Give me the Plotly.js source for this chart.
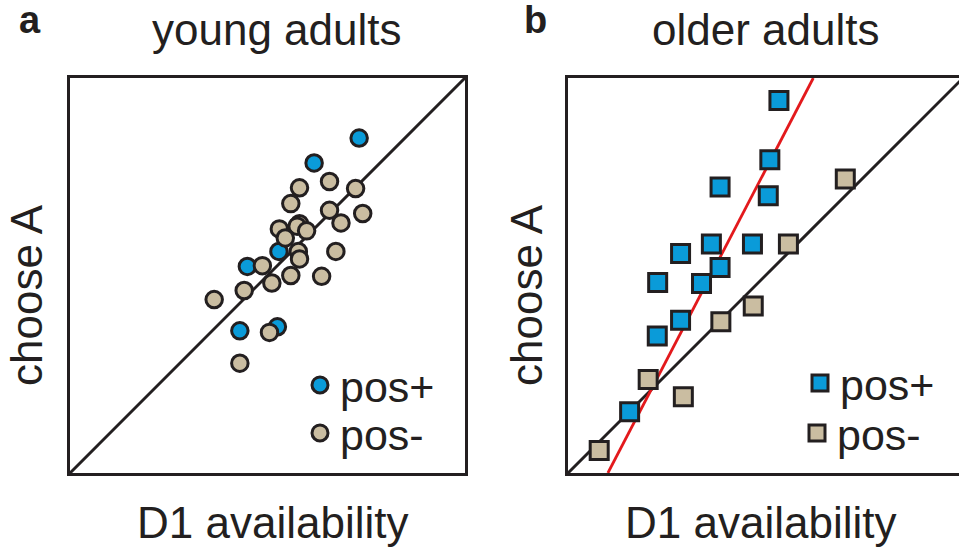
<!DOCTYPE html>
<html>
<head>
<meta charset="utf-8">
<script src="https://cdn.plot.ly/plotly-3.0.1.min.js"></script>
<style>html,body{margin:0;padding:0;background:#fff}#plot{width:959px;height:549px}</style>
</head>
<body>
<div id="plot"></div>
<script>
// ---- data (axes in arbitrary 0-1 units) ----
var seriesNames = ["pos+", "pos-"];

var youngPosX = [0.732, 0.618, 0.529, 0.449, 0.430, 0.525];
var youngPosY = [0.848, 0.785, 0.561, 0.523, 0.360, 0.370];

var youngNegX = [0.657, 0.581, 0.723, 0.559, 0.657, 0.741, 0.686, 0.581, 0.575, 0.530, 0.599, 0.545, 0.578, 0.581, 0.673, 0.487, 0.559, 0.637, 0.511, 0.441, 0.365, 0.505, 0.430];
var youngNegY = [0.738, 0.722, 0.720, 0.682, 0.665, 0.657, 0.633, 0.631, 0.625, 0.618, 0.613, 0.595, 0.561, 0.542, 0.561, 0.525, 0.500, 0.498, 0.481, 0.462, 0.439, 0.356, 0.278];

var olderPosX = [0.534, 0.511, 0.385, 0.507, 0.363, 0.467, 0.285, 0.385, 0.227, 0.338, 0.285, 0.226, 0.156];
var olderPosY = [0.943, 0.793, 0.724, 0.702, 0.580, 0.580, 0.556, 0.520, 0.482, 0.480, 0.387, 0.347, 0.155];

var olderNegX = [0.702, 0.558, 0.469, 0.387, 0.203, 0.292, 0.079];
var olderNegY = [0.744, 0.580, 0.423, 0.383, 0.237, 0.193, 0.057];

// identity line and red fit line for older pos+
var identityX = [0, 1];
var identityY = [0, 1];
var fitX = [0.101, 0.621];
var fitY = [0, 1];

var panelTitles = ["young adults", "older adults"];
var panelLetters = ["a", "b"];
var xTitle = "D1 availability";
var yTitle = "choose A";

// ---- styles ----
var blue = "#0a9bd9";
var tan = "#cabda1";
var ink = "#231f20";
var FONT = "Liberation Sans, Arial, sans-serif";

var W = 959, H = 549;
function px(x) { return x / W; }
function py(y) { return 1 - y / H; }

var traces = [
  {x: identityX, y: identityY, xaxis: "x", yaxis: "y", mode: "lines", line: {color: ink, width: 3}, showlegend: false, hoverinfo: "skip"},
  {x: youngPosX, y: youngPosY, xaxis: "x", yaxis: "y", mode: "markers", name: seriesNames[0], legend: "legend",
   marker: {symbol: "circle", size: 16.5, color: blue, line: {color: ink, width: 3}}},
  {x: youngNegX, y: youngNegY, xaxis: "x", yaxis: "y", mode: "markers", name: seriesNames[1], legend: "legend2",
   marker: {symbol: "circle", size: 16.5, color: tan, line: {color: ink, width: 3}}},
  {x: identityX, y: identityY, xaxis: "x2", yaxis: "y2", mode: "lines", line: {color: ink, width: 3}, showlegend: false, hoverinfo: "skip"},
  {x: fitX, y: fitY, xaxis: "x2", yaxis: "y2", mode: "lines", line: {color: "#e3191c", width: 2.8}, showlegend: false, hoverinfo: "skip"},
  {x: olderPosX, y: olderPosY, xaxis: "x2", yaxis: "y2", mode: "markers", name: seriesNames[0], legend: "legend3",
   marker: {symbol: "square", size: 18, color: blue, line: {color: ink, width: 3}}},
  {x: olderNegX, y: olderNegY, xaxis: "x2", yaxis: "y2", mode: "markers", name: seriesNames[1], legend: "legend4",
   marker: {symbol: "square", size: 18, color: tan, line: {color: ink, width: 3}}}
];

var axBase = {showgrid: false, zeroline: false, showticklabels: false, ticks: "", showline: true,
  linecolor: ink, linewidth: 3, fixedrange: true};

function leg(xl, yc) {
  return {x: px(xl), y: py(yc), xanchor: "left", yanchor: "middle", bgcolor: "rgba(0,0,0,0)",
    font: {size: 43, family: FONT, color: ink}, itemsizing: "trace", tracegroupgap: 0};
}

var layout = {
  width: W, height: H,
  margin: {l: 0, r: 0, t: 0, b: 0},
  paper_bgcolor: "#fff", plot_bgcolor: "#fff",
  font: {family: FONT, color: ink, size: 44},
  xaxis: Object.assign({}, axBase, {domain: [px(70), px(465)], range: [0, 1], mirror: true, anchor: "y"}),
  yaxis: Object.assign({}, axBase, {domain: [py(473), py(78)], range: [0, 1], mirror: true, anchor: "x"}),
  xaxis2: Object.assign({}, axBase, {domain: [px(568), 1], range: [0, (W - 568) / 395], mirror: true, anchor: "y2"}),
  yaxis2: Object.assign({}, axBase, {domain: [py(473), py(78)], range: [0, 1], mirror: false, anchor: "x2"}),
  legend: leg(300, 385),
  legend2: leg(300, 433),
  legend3: leg(800, 383),
  legend4: leg(797, 433),
  showlegend: true,
  annotations: [
    {text: panelTitles[0], xref: "paper", yref: "paper", x: px(277), y: py(30), xanchor: "center", yanchor: "middle", showarrow: false, font: {size: 44}},
    {text: panelTitles[1], xref: "paper", yref: "paper", x: px(765), y: py(30), xanchor: "center", yanchor: "middle", showarrow: false, font: {size: 44}},
    {text: "<b>" + panelLetters[0] + "</b>", xref: "paper", yref: "paper", x: px(30), y: py(20), xanchor: "center", yanchor: "middle", showarrow: false, font: {size: 38}},
    {text: "<b>" + panelLetters[1] + "</b>", xref: "paper", yref: "paper", x: px(535), y: py(20), xanchor: "center", yanchor: "middle", showarrow: false, font: {size: 38}},
    {text: xTitle, xref: "paper", yref: "paper", x: px(272), y: py(522), xanchor: "center", yanchor: "middle", showarrow: false, font: {size: 44}},
    {text: xTitle, xref: "paper", yref: "paper", x: px(760), y: py(522), xanchor: "center", yanchor: "middle", showarrow: false, font: {size: 44}},
    {text: yTitle, xref: "paper", yref: "paper", x: px(26), y: py(295), xanchor: "center", yanchor: "middle", textangle: -90, showarrow: false, font: {size: 44}},
    {text: yTitle, xref: "paper", yref: "paper", x: px(526), y: py(295), xanchor: "center", yanchor: "middle", textangle: -90, showarrow: false, font: {size: 44}}
  ]
};

Plotly.newPlot("plot", traces, layout, {displayModeBar: false, staticPlot: true});
</script>
</body>
</html>
